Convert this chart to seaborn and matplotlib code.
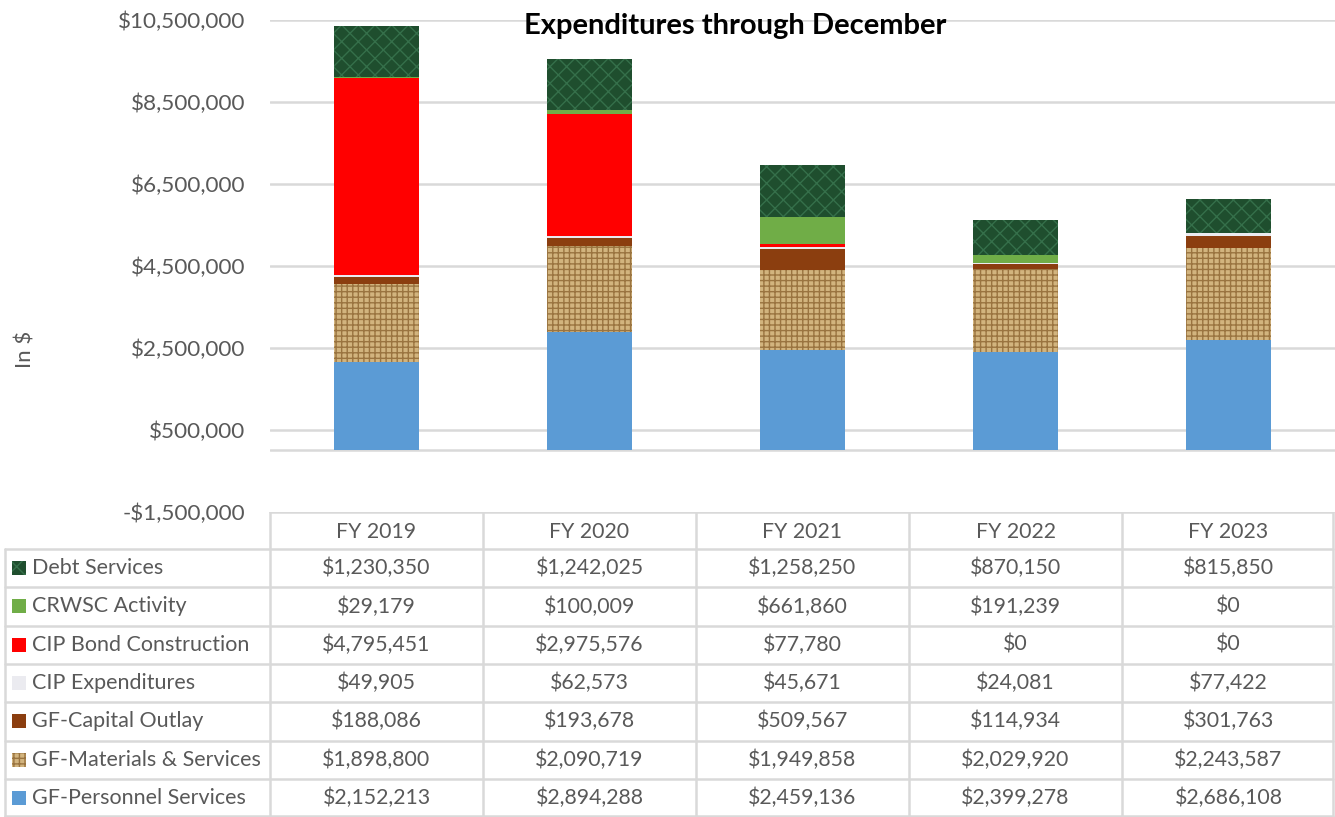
import numpy as np
import matplotlib
matplotlib.use("Agg")
import matplotlib.pyplot as plt
from matplotlib.patches import Rectangle
import seaborn as sns

# --- DATA ---
years = ["FY 2019", "FY 2020", "FY 2021", "FY 2022", "FY 2023"]
debt_services = [1230350, 1242025, 1258250, 870150, 815850]
crwsc_activity = [29179, 100009, 661860, 191239, 0]
cip_bond = [4795451, 2975576, 77780, 0, 0]
cip_expenditures = [49905, 62573, 45671, 24081, 77422]
gf_capital = [188086, 193678, 509567, 114934, 301763]
gf_materials = [1898800, 2090719, 1949858, 2029920, 2243587]
gf_personnel = [2152213, 2894288, 2459136, 2399278, 2686108]

# bottom -> top stacking order
series = [
    ("GF-Personnel Services", gf_personnel, "#5b9bd5", None, None),
    ("GF-Materials & Services", gf_materials, "#d2b47e", "+++", "#9a7440"),
    ("GF-Capital Outlay", gf_capital, "#8b3e0f", None, None),
    ("CIP Expenditures", cip_expenditures, "#ebebf0", None, None),
    ("CIP Bond Construction", cip_bond, "#ff0000", None, None),
    ("CRWSC Activity", crwsc_activity, "#70ad47", None, None),
    ("Debt Services", debt_services, "#1f4e2e", "xx", "#356f4a"),
]

sns.set_theme(style="white")
plt.rcParams["font.family"] = ["Lato", "DejaVu Sans"]
plt.rcParams["hatch.linewidth"] = 1.0
text_col = "#595959"
grid_col = "#d9d9d9"

fig = plt.figure(figsize=(13.35, 8.17), dpi=100)
ax = fig.add_axes([270 / 1335, 1 - 512 / 817, 1065 / 1335, 492 / 817])

# --- STACKED BARS (cumulative overlap, tallest first) ---
cum = np.cumsum([np.array(s[1], dtype=float) for s in series], axis=0)
for i in range(len(series) - 1, -1, -1):
    name, vals, col, hatch, hcol = series[i]
    sns.barplot(x=years, y=cum[i], color=col, width=0.4, saturation=1,
                errorbar=None, ax=ax, linewidth=0, zorder=3,
                hatch=hatch, edgecolor=hcol if hatch else col)

ax.set_xlim(-0.5, 4.5)
ax.set_ylim(-1500000, 10500000)
yt = np.arange(-1500000, 10500001, 2000000)
ax.set_yticks(yt)
ax.set_yticklabels([f"-${abs(v):,.0f}" if v < 0 else f"${v:,.0f}" for v in yt],
                   fontsize=16.2, color=text_col)
ax.tick_params(axis="y", length=0, pad=18)
ax.set_xticks([])
ax.set_xlabel("")
ax.set_ylabel("")
for v in yt[1:]:
    ax.axhline(v, color=grid_col, lw=1.8, zorder=1)
ax.axhline(0, color=grid_col, lw=1.8, zorder=1)
for sp in ax.spines.values():
    sp.set_visible(False)
fig.text(26 / 1335, 1 - 349 / 817, "In $", rotation=90, ha="center", va="center",
         fontsize=16, color=text_col)
fig.text(735 / 1335, 1 - 26 / 817, "Expenditures through December",
         ha="center", va="center", fontsize=21, fontweight="bold", color="black")

# --- DATA TABLE ---
tab = fig.add_axes([0, 0, 1, 1 - 512 / 817])
tab.set_xlim(0, 1335)
tab.set_ylim(817, 512)
tab.axis("off")
col_edges = [270 + 213 * k for k in range(6)]
row_edges = [512, 549] + [549 + 38.3 * (k + 1) for k in range(7)]
lw = 1.8
tab.plot([270, 1333], [512, 512], color=grid_col, lw=lw)
for x in col_edges:
    tab.plot([min(x, 1333)] * 2, [512, 817], color=grid_col, lw=lw)
tab.plot([5, 5], [549, 817], color=grid_col, lw=lw)
for y in row_edges[1:]:
    tab.plot([5, 1333], [min(y, 816)] * 2, color=grid_col, lw=lw)
for j, yr in enumerate(years):
    tab.text((col_edges[j] + col_edges[j + 1]) / 2, (512 + 549) / 2 + 1, yr,
             ha="center", va="center", fontsize=15.3, color=text_col)

for r, (name, vals, col, hatch, hcol) in enumerate(series[::-1]):
    yc = (row_edges[r + 1] + row_edges[r + 2]) / 2
    tab.add_patch(Rectangle((12, yc - 7), 14, 14, facecolor=col,
                            edgecolor=hcol if hatch else col, hatch=hatch, lw=0))
    tab.text(32, yc, name, ha="left", va="center", fontsize=15.5, color=text_col)
    for j, v in enumerate(vals):
        tab.text((col_edges[j] + col_edges[j + 1]) / 2, yc, f"${v:,.0f}",
                 ha="center", va="center", fontsize=15.3, color=text_col)

fig.savefig("out.png", dpi=100)
